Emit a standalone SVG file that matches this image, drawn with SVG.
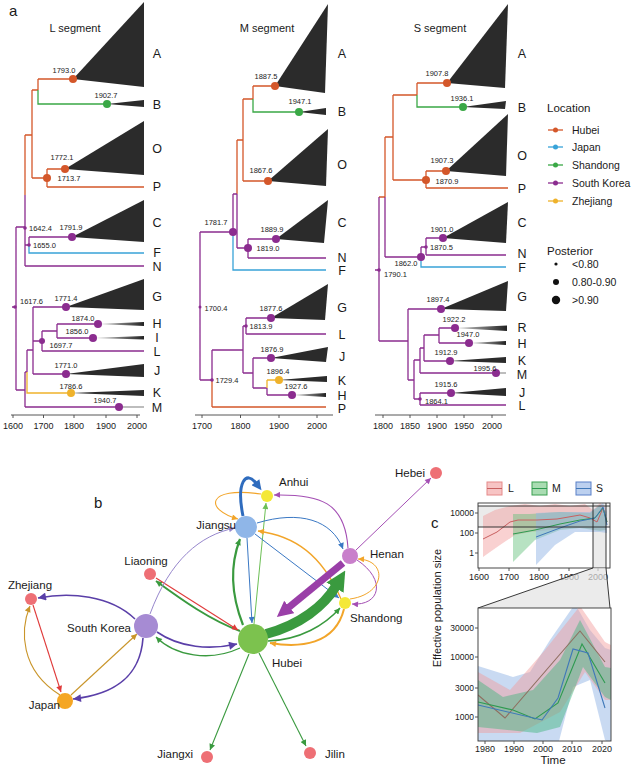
<svg xmlns="http://www.w3.org/2000/svg" width="633" height="768" viewBox="0 0 633 768">
<defs>
<style>
text{font-family:"Liberation Sans",Arial,sans-serif;fill:#1a1a1a}
.pl{font-size:15px}
.st{font-size:11px;text-anchor:middle}
.tl{font-size:12.5px;text-anchor:middle}
.nl{font-size:7.5px;text-anchor:middle;fill:#222}
.ns{font-size:7.5px;fill:#222}
.ax{font-size:9px;text-anchor:middle;fill:#444}
.axr{font-size:8.5px;text-anchor:end;fill:#444}
.lg{font-size:10.5px}
.lt{font-size:11.5px}
.br{fill:none;stroke-width:1.3}
.o{stroke:#d4572a}.p{stroke:#8b2c8f}.g{stroke:#3aa846}.c{stroke:#38a3d8}.y{stroke:#efb22b}.gr{stroke:#9a9a9a}
.tri{fill:#2b2b2b}
.tg{fill:url(#fade)}
.do{fill:#d4572a}.dp{fill:#8b2c8f}.dg{fill:#3aa846}.dy{fill:#efb22b}.dc{fill:#38a3d8}
.axl{stroke:#444;stroke-width:0.9;fill:none}
.bt{font-size:11.5px}
.e{fill:none}
</style>
<linearGradient id="fade" x1="0" x2="1" y1="0" y2="0"><stop offset="0" stop-color="#d0d0d0"/><stop offset="1" stop-color="#222"/></linearGradient>
<marker id="aG" viewBox="0 0 10 10" refX="10" refY="5" markerWidth="7" markerHeight="6" markerUnits="userSpaceOnUse" orient="auto"><path d="M0,0L10,5L0,10z" fill="#3a9a3f"/></marker>
<marker id="aLG" viewBox="0 0 10 10" refX="10" refY="5" markerWidth="7" markerHeight="6" markerUnits="userSpaceOnUse" orient="auto"><path d="M0,0L10,5L0,10z" fill="#6cbf55"/></marker>
<marker id="aP" viewBox="0 0 10 10" refX="10" refY="5" markerWidth="7" markerHeight="6" markerUnits="userSpaceOnUse" orient="auto"><path d="M0,0L10,5L0,10z" fill="#a44fb4"/></marker>
<marker id="aB" viewBox="0 0 10 10" refX="10" refY="5" markerWidth="7" markerHeight="6" markerUnits="userSpaceOnUse" orient="auto"><path d="M0,0L10,5L0,10z" fill="#3a78c4"/></marker>
<marker id="aO" viewBox="0 0 10 10" refX="10" refY="5" markerWidth="7" markerHeight="6" markerUnits="userSpaceOnUse" orient="auto"><path d="M0,0L10,5L0,10z" fill="#f2a52a"/></marker>
<marker id="aI" viewBox="0 0 10 10" refX="10" refY="5" markerWidth="9" markerHeight="8" markerUnits="userSpaceOnUse" orient="auto"><path d="M0,0L10,5L0,10z" fill="#5a3fa8"/></marker>
<marker id="aR" viewBox="0 0 10 10" refX="10" refY="5" markerWidth="7" markerHeight="6" markerUnits="userSpaceOnUse" orient="auto"><path d="M0,0L10,5L0,10z" fill="#e03a3a"/></marker>
<marker id="aN" viewBox="0 0 10 10" refX="10" refY="5" markerWidth="7" markerHeight="6" markerUnits="userSpaceOnUse" orient="auto"><path d="M0,0L10,5L0,10z" fill="#c9952a"/></marker>
<marker id="aLP" viewBox="0 0 10 10" refX="10" refY="5" markerWidth="7" markerHeight="6" markerUnits="userSpaceOnUse" orient="auto"><path d="M0,0L10,5L0,10z" fill="#9686cc"/></marker>
<marker id="aBT" viewBox="0 0 10 10" refX="1" refY="5" markerWidth="11" markerHeight="10" markerUnits="userSpaceOnUse" orient="auto"><path d="M0,0L10,5L0,10z" fill="#2f6cbe"/></marker>
<marker id="aPT" viewBox="0 0 10 10" refX="1" refY="5" markerWidth="16" markerHeight="16" markerUnits="userSpaceOnUse" orient="auto"><path d="M0,0L10,5L0,10z" fill="#9a3fa8"/></marker>
<marker id="aGT" viewBox="0 0 10 10" refX="1" refY="5" markerWidth="20" markerHeight="22" markerUnits="userSpaceOnUse" orient="auto"><path d="M0,0L10,5L0,10z" fill="#3a9a3f"/></marker>
<clipPath id="cb"><rect x="478" y="608" width="133" height="133"/></clipPath>
<clipPath id="ct"><rect x="478" y="503" width="132" height="65"/></clipPath>
</defs>
<rect width="633" height="768" fill="#fff"/>

<!-- panel a labels -->
<text class="pl" x="9" y="16">a</text>
<text class="st" x="75" y="32">L segment</text>
<text class="st" x="267" y="32">M segment</text>
<text class="st" x="440" y="32">S segment</text>

<!-- L tree -->
<g id="treeL">
<g id="treeL-connectors">
<path class="br o" d="M38,79H73M38,79V90M32,90H38M32,90V178M25,135H32M32,178H47M47,169V187M47,169H65M47,187H144M25,135V195"/>
<path class="br g" d="M38,90V104H107"/>
<path class="br p" d="M25,195V266M25,245H29M29,237V245M29,237H72M25,266H144M16,227H25M16,227V390M12,307H16M16,390H25M25,372V407M25,372H27M27,350V372M27,350H33M33,307V374M33,307H66M33,374H66M33,341H42M42,331V351M42,331H57M57,324V338M57,324H98M57,338H93M42,351H144M25,407H119"/>
<path class="br c" d="M29,245V253H144"/>
<path class="br y" d="M27,372V393H71"/>
<path class="br gr" d="M119,407H144"/>
</g>
<polygon class="tri" points="73,79 144,2 144,87"/>
<polygon class="tri" points="107,104 144,100 144,107"/>
<polygon class="tri" points="65,169 144,121 144,175"/>
<polygon class="tri" points="72,237 144,200 144,242"/>
<polygon class="tri" points="66,307 144,279 144,310"/>
<polygon class="tg" points="98,324 144,322 144,326"/>
<polygon class="tg" points="93,338 144,336 144,339.5"/>
<polygon class="tri" points="66,374 144,364 144,377"/>
<polygon class="tri" points="71,393 144,390 144,396"/>
<g class="do"><circle cx="73" cy="79" r="4"/><circle cx="65" cy="169" r="4"/><circle cx="47" cy="178" r="4"/></g>
<circle class="dg" cx="107" cy="104" r="4"/>
<g class="dp"><circle cx="25" cy="228" r="1.8"/><circle cx="29" cy="245" r="1.8"/><circle cx="15" cy="307" r="1.8"/><circle cx="72" cy="237" r="4"/><circle cx="66" cy="307" r="4"/><circle cx="98" cy="324" r="4"/><circle cx="93" cy="338" r="4"/><circle cx="66" cy="374" r="4"/><circle cx="119" cy="407" r="4"/><circle cx="42" cy="341" r="3"/></g>
<circle class="dy" cx="71" cy="393" r="4"/>
<text class="nl" x="64" y="73">1793.0</text>
<text class="nl" x="106" y="98">1902.7</text>
<text class="nl" x="62" y="160">1772.1</text>
<text class="nl" x="69" y="181">1713.7</text>
<text class="ns" x="29" y="231">1642.4</text>
<text class="nl" x="71" y="230">1791.9</text>
<text class="ns" x="33" y="248">1655.0</text>
<text class="ns" x="20" y="304">1617.6</text>
<text class="nl" x="66" y="301">1771.4</text>
<text class="nl" x="83" y="321">1874.0</text>
<text class="nl" x="77" y="334">1856.0</text>
<text class="nl" x="61" y="348">1697.7</text>
<text class="nl" x="66" y="368">1771.0</text>
<text class="nl" x="71" y="389">1786.6</text>
<text class="nl" x="105" y="403">1940.7</text>
<g class="tl">
<text x="157" y="58">A</text><text x="157" y="109">B</text><text x="157" y="153">O</text><text x="157" y="191">P</text>
<text x="157" y="227">C</text><text x="157" y="257">F</text><text x="157" y="271">N</text><text x="157" y="301">G</text>
<text x="157" y="328">H</text><text x="157" y="342">I</text><text x="157" y="356">L</text><text x="157" y="375">J</text>
<text x="157" y="397">K</text><text x="157" y="412">M</text>
</g>
<path class="axl" d="M11,415H140M13,415V418M43.5,415V418M74,415V418M106,415V418M137,415V418"/>
<g class="ax"><text x="13" y="429">1600</text><text x="43.5" y="429">1700</text><text x="74" y="429">1800</text><text x="106" y="429">1900</text><text x="137" y="429">2000</text></g>
</g>

<!-- M tree -->
<g id="treeM">
<g id="treeM-connectors">
<path class="br o" d="M253,86H275M253,86V99M243,99H253M243,99V181M243,181H268M237,140H243M237,140V194M212,380V407M212,407H326"/>
<path class="br g" d="M253,99V112H299"/>
<path class="br p" d="M233,194H237M237,194V248M237,248H248M248,239V258M248,239H276M248,258H326M233,194V232M200,232H233M200,232V380M200,380H212M212,350V380M212,350H243M243,326V373M243,326H246M246,318V334M246,318H271M246,334H326M243,373H253M253,358V388M253,358H271M253,388H267M267,388V395M267,395H292"/>
<path class="br c" d="M233,232V270H326"/>
<path class="br y" d="M267,380V388M267,380H279"/>
</g>
<polygon class="tri" points="275,86 328,4 325,93"/>
<polygon class="tri" points="299,112 326,108 326,115"/>
<polygon class="tri" points="268,181 328,129 326,186"/>
<polygon class="tri" points="276,239 328,200 324,243"/>
<polygon class="tri" points="271,318 328,284 325,320"/>
<polygon class="tri" points="271,358 328,347 326,362"/>
<polygon class="tri" points="279,380 327,376 327,382"/>
<polygon class="tg" points="292,395 326,393 326,397"/>
<g class="do"><circle cx="275" cy="86" r="4"/><circle cx="268" cy="181" r="4"/></g>
<circle class="dg" cx="299" cy="112" r="4"/>
<g class="dp"><circle cx="233" cy="232" r="4"/><circle cx="276" cy="239" r="4"/><circle cx="248" cy="248" r="4"/><circle cx="271" cy="318" r="4"/><circle cx="271" cy="358" r="4"/><circle cx="292" cy="395" r="4"/><circle cx="246" cy="326" r="1.8"/><circle cx="212" cy="380" r="1.8"/><circle cx="200" cy="307" r="1.5"/></g>
<circle class="dy" cx="279" cy="380" r="4"/>
<text class="nl" x="266" y="79">1887.5</text>
<text class="nl" x="300" y="104">1947.1</text>
<text class="nl" x="261" y="173">1867.6</text>
<text class="nl" x="216" y="225">1781.7</text>
<text class="nl" x="272" y="232">1889.9</text>
<text class="nl" x="268" y="251">1819.0</text>
<text class="nl" x="216" y="311">1700.4</text>
<text class="nl" x="271" y="311">1877.6</text>
<text class="nl" x="261" y="329">1813.9</text>
<text class="nl" x="272" y="352">1876.9</text>
<text class="nl" x="278" y="374">1896.4</text>
<text class="nl" x="296" y="389">1927.6</text>
<text class="nl" x="227" y="383">1729.4</text>
<g class="tl">
<text x="342" y="58">A</text><text x="342" y="116">B</text><text x="342" y="169">O</text><text x="342" y="227">C</text>
<text x="342" y="262">N</text><text x="342" y="275">F</text><text x="342" y="312">G</text><text x="342" y="339">L</text>
<text x="342" y="361">J</text><text x="342" y="385">K</text><text x="342" y="400">H</text><text x="342" y="413">P</text>
</g>
<path class="axl" d="M195,415H333M202,415V418M240.5,415V418M279,415V418M317,415V418"/>
<g class="ax"><text x="202" y="429">1700</text><text x="240.5" y="429">1800</text><text x="279" y="429">1900</text><text x="317" y="429">2000</text></g>
</g>

<!-- S tree -->
<g id="treeS">
<g id="treeS-connectors">
<path class="br o" d="M417,83H447M417,83V95M393,95H417M393,95V180M393,180H426M426,171V188M426,171H446M426,188H508M385,137H393M385,137V197M379,197H385"/>
<path class="br g" d="M417,95V107H463"/>
<path class="br p" d="M385,197V257M385,257H421M421,247V257M421,247H426M426,238V255M426,238H443M426,255H506M379,197V341M375,270H379M379,341H408M408,309V380M408,309H441M408,380H414M414,360V399M414,360H420M420,348V373M420,348H424M424,335V361M424,335H439M439,328V343M439,328H455M439,343H469M424,361H450M420,373H496M414,399H420M420,393V405M420,393H451M420,405H506"/>
<path class="br c" d="M421,257V267H506"/>
<path class="br gr" d="M496,373H506"/>
</g>
<polygon class="tri" points="447,83 508,4 505,88"/>
<polygon class="tri" points="463,107 506,101 505,109"/>
<polygon class="tri" points="446,171 508,114 506,176"/>
<polygon class="tri" points="443,238 508,202 506,243"/>
<polygon class="tri" points="441,309 508,281 506,311"/>
<polygon class="tg" points="455,328 507,325.5 507,331"/>
<polygon class="tg" points="469,343 506,341 506,345"/>
<polygon class="tri" points="450,361 506,357 506,363"/>
<polygon class="tri" points="451,393 506,388 506,396"/>
<g class="do"><circle cx="447" cy="83" r="4"/><circle cx="446" cy="171" r="4"/><circle cx="426" cy="180" r="4"/></g>
<circle class="dg" cx="463" cy="107" r="4"/>
<g class="dp"><circle cx="421" cy="257" r="4"/><circle cx="443" cy="238" r="4"/><circle cx="441" cy="309" r="4"/><circle cx="455" cy="328" r="4"/><circle cx="469" cy="343" r="4"/><circle cx="450" cy="361" r="4"/><circle cx="496" cy="373" r="4"/><circle cx="451" cy="393" r="4"/><circle cx="426" cy="247" r="1.8"/><circle cx="379" cy="270" r="1.8"/><circle cx="420" cy="399" r="1.8"/></g>
<text class="nl" x="437" y="76">1907.8</text>
<text class="nl" x="462" y="101">1936.1</text>
<text class="nl" x="442" y="163">1907.3</text>
<text class="nl" x="447" y="184">1870.9</text>
<text class="nl" x="442" y="232">1901.0</text>
<text class="ns" x="430" y="250">1870.5</text>
<text class="nl" x="406" y="266">1862.0</text>
<text class="ns" x="384" y="277">1790.1</text>
<text class="nl" x="438" y="302">1897.4</text>
<text class="nl" x="454" y="322">1922.2</text>
<text class="nl" x="468" y="337">1947.0</text>
<text class="nl" x="446" y="355">1912.9</text>
<text class="nl" x="485" y="371">1995.6</text>
<text class="nl" x="446" y="387">1915.6</text>
<text class="ns" x="425" y="404">1864.1</text>
<g class="tl">
<text x="522" y="58">A</text><text x="522" y="112">B</text><text x="522" y="160">O</text><text x="522" y="193">P</text>
<text x="522" y="227">C</text><text x="522" y="258">N</text><text x="522" y="272">F</text><text x="522" y="301">G</text>
<text x="522" y="332">R</text><text x="522" y="348">H</text><text x="522" y="365">K</text><text x="522" y="379">M</text>
<text x="522" y="397">J</text><text x="522" y="410">L</text>
</g>
<path class="axl" d="M375,415H506M383,415V418M410,415V418M437,415V418M464,415V418M492,415V418"/>
<g class="ax"><text x="383" y="429">1800</text><text x="410" y="429">1850</text><text x="437" y="429">1900</text><text x="464" y="429">1950</text><text x="492" y="429">2000</text></g>
</g>

<!-- legend a -->
<g id="legend-location">
<text class="lt" x="547" y="112">Location</text>
<g stroke-width="1.3"><path d="M548,130H563" stroke="#d4572a"/><path d="M548,147H563" stroke="#38a3d8"/><path d="M548,165H563" stroke="#3aa846"/><path d="M548,183H563" stroke="#8b2c8f"/><path d="M548,201H563" stroke="#efb22b"/></g>
<circle class="do" cx="555.5" cy="130" r="2.5"/><circle class="dc" cx="555.5" cy="147" r="2.5"/><circle class="dg" cx="555.5" cy="165" r="2.5"/><circle class="dp" cx="555.5" cy="183" r="2.5"/><circle class="dy" cx="555.5" cy="201" r="2.5"/>
<g class="lg"><text x="572" y="134">Hubei</text><text x="572" y="151">Japan</text><text x="572" y="169">Shandong</text><text x="572" y="187">South Korea</text><text x="572" y="205">Zhejiang</text></g>
</g>
<g id="legend-posterior">
<text class="lt" x="547" y="255">Posterior</text>
<circle cx="556" cy="264" r="1.6" fill="#111"/><circle cx="556" cy="282" r="3" fill="#111"/><circle cx="556" cy="300" r="4.2" fill="#111"/>
<g class="lg"><text x="572" y="268">&lt;0.80</text><text x="572" y="286">0.80-0.90</text><text x="572" y="304">&gt;0.90</text></g>
</g>

<!-- panel b -->
<text class="pl" x="94" y="508">b</text>
<g id="edges">
<path class="e" stroke="#3a9a3f" stroke-width="1.1" d="M249,654L210,750" marker-end="url(#aG)"/>
<path class="e" stroke="#3a9a3f" stroke-width="1.1" d="M259,653L306,746" marker-end="url(#aG)"/>
<path class="e" stroke="#a44fb4" stroke-width="1" d="M356,550L431,478" marker-end="url(#aP)"/>
<path class="e" stroke="#a44fb4" stroke-width="1.1" d="M348,548C345,502 320,494 274,495" marker-end="url(#aP)"/>
<path class="e" stroke="#6cbf55" stroke-width="1" d="M254,624L266,503" marker-end="url(#aLG)"/>
<path class="e" stroke="#3a78c4" stroke-width="1" d="M247,538L252,623" marker-end="url(#aB)"/>
<path class="e" stroke="#f2a52a" stroke-width="1.1" d="M261,494C205,486 205,510 238,519" marker-end="url(#aO)"/>
<path class="e" stroke="#2f6cbe" stroke-width="3" d="M243,516C236,482 246,470 256,483" marker-end="url(#aBT)"/>
<path class="e" stroke="#3a78c4" stroke-width="1" d="M257,523C300,510 332,520 343,549" marker-end="url(#aB)"/>
<path class="e" stroke="#3a78c4" stroke-width="1" d="M255,534L339,598" marker-end="url(#aB)"/>
<path class="e" stroke="#f2a52a" stroke-width="1.3" d="M341,599C322,555 295,536 258,531" marker-end="url(#aO)"/>
<path class="e" stroke="#3a9a3f" stroke-width="2.2" d="M243,625C230,592 230,565 240,539" marker-end="url(#aG)"/>
<path class="e" stroke="#3a9a3f" stroke-width="2" d="M240,631C210,620 182,600 156,581" marker-end="url(#aG)"/>
<path class="e" stroke="#e03a3a" stroke-width="1.1" d="M156,578L238,630" marker-end="url(#aR)"/>
<path class="e" stroke="#5a3fa8" stroke-width="1.6" d="M157,632C180,648 210,650 237,644" marker-end="url(#aI)"/>
<path class="e" stroke="#3a9a3f" stroke-width="1.3" d="M240,648C210,662 175,656 156,637" marker-end="url(#aG)"/>
<path class="e" stroke="#9686cc" stroke-width="1" d="M150,614C170,560 200,535 235,528" marker-end="url(#aLP)"/>
<path class="e" stroke="#5a3fa8" stroke-width="1.6" d="M135,619C110,595 70,592 38,598" marker-end="url(#aI)"/>
<path class="e" stroke="#5a3fa8" stroke-width="1.6" d="M143,638C140,680 110,695 73,699" marker-end="url(#aI)"/>
<path class="e" stroke="#c9952a" stroke-width="1.1" d="M71,695L137,634" marker-end="url(#aN)"/>
<path class="e" stroke="#c9952a" stroke-width="1.1" d="M60,695C20,670 20,630 30,606" marker-end="url(#aN)"/>
<path class="e" stroke="#e03a3a" stroke-width="1.1" d="M33,605L61,692" marker-end="url(#aR)"/>
<path class="e" stroke="#3a9a3f" stroke-width="1.5" d="M268,641C300,640 325,625 340,608" marker-end="url(#aG)"/>
<path class="e" stroke="#f2a52a" stroke-width="2" d="M344,609C335,645 300,648 270,643" marker-end="url(#aO)"/>
<path class="e" stroke="#a44fb4" stroke-width="1" d="M357,560C387,580 380,606 352,604" marker-end="url(#aP)"/>
<path class="e" stroke="#f2a52a" stroke-width="1" d="M350,599C386,594 388,560 358,559" marker-end="url(#aO)"/>
<path class="e" stroke="#9a3fa8" stroke-width="7" d="M343,563L288,608" marker-end="url(#aPT)"/>
<path class="e" stroke="#3a9a3f" stroke-width="10" d="M266,634C300,625 324,606 336,586" marker-end="url(#aGT)"/>
</g>
<g id="node-anhui"><circle cx="267" cy="496" r="6" fill="#f4e838"/><text class="bt" x="279" y="486">Anhui</text></g>
<g id="node-jiangsu"><circle cx="246" cy="527" r="11" fill="#8fb6e8"/><text class="bt" x="236" y="529" text-anchor="end">Jiangsu</text></g>
<g id="node-liaoning"><circle cx="150" cy="574" r="6" fill="#ee6f75"/><text class="bt" x="146" y="565" text-anchor="middle">Liaoning</text></g>
<g id="node-zhejiang"><circle cx="31" cy="599" r="6" fill="#ee6f75"/><text class="bt" x="30" y="589" text-anchor="middle">Zhejiang</text></g>
<g id="node-southkorea"><circle cx="146" cy="626" r="12" fill="#a68bd3"/><text class="bt" x="131" y="632" text-anchor="end">South Korea</text></g>
<g id="node-hubei"><circle cx="253" cy="639" r="15" fill="#7cc24e"/><text class="bt" x="272" y="667">Hubei</text></g>
<g id="node-japan"><circle cx="65" cy="701" r="8" fill="#f5a623"/><text class="bt" x="60" y="709" text-anchor="end">Japan</text></g>
<g id="node-jiangxi"><circle cx="207" cy="757" r="6" fill="#ee6f75"/><text class="bt" x="193" y="758" text-anchor="end">Jiangxi</text></g>
<g id="node-jilin"><circle cx="310" cy="753" r="6" fill="#ee6f75"/><text class="bt" x="325" y="758">Jilin</text></g>
<g id="node-shandong"><circle cx="345" cy="603" r="6" fill="#f4e838"/><text class="bt" x="350" y="622">Shandong</text></g>
<g id="node-henan"><circle cx="350" cy="556" r="8" fill="#c97fcb"/><text class="bt" x="370" y="558">Henan</text></g>
<g id="node-hebei"><circle cx="436" cy="473" r="6" fill="#ee6f75"/><text class="bt" x="425" y="477" text-anchor="end">Hebei</text></g>

<!-- panel c -->
<g id="panel-c">
<text class="pl" x="431" y="528">c</text>
<g id="legend-c">
<rect x="487" y="482" width="15" height="13" fill="#f7c4c4" stroke="#e58a8a"/><path d="M487,488.5H502" stroke="#c86060"/>
<rect x="532" y="482" width="15" height="13" fill="#a9dcb2" stroke="#3aa050"/><path d="M532,488.5H547" stroke="#2e9a50"/>
<rect x="576" y="482" width="15" height="13" fill="#bcd0ef" stroke="#5a80c8"/><path d="M576,488.5H591" stroke="#3f78b8"/>
<g class="lg"><text x="508" y="492">L</text><text x="552" y="492">M</text><text x="596" y="492">S</text></g>
</g>
<rect x="478" y="503" width="132" height="65" fill="#fff"/>
<rect x="478" y="506" width="132" height="21" fill="#ebebeb"/>
<rect x="593" y="503" width="13" height="65" fill="#ebebeb"/>
<g clip-path="url(#ct)">
<polygon fill="#f29a9a" fill-opacity="0.45" points="483,516 495,510 510,506 525,504 540,506 555,504 570,506 585,504 593,510 600,503 606,508 606,530 595,530 585,528 570,528 550,530 530,532 515,535 500,545 490,552 483,557"/>
<polygon fill="#5fbf77" fill-opacity="0.45" points="513,514 530,514 560,512 590,513 600,505 606,512 606,530 600,531 580,528 560,530 535,540 513,562"/>
<polygon fill="#94b6e6" fill-opacity="0.5" points="536,513 560,512 590,512 603,503 607,512 607,533 600,532 575,532 555,545 536,565"/>
<polyline fill="none" stroke="#c86060" stroke-width="1" points="483,539 497,532 510,522 518,520 537,520 557,519 580,515 590,518 597,522 603,508 607,522"/>
<polyline fill="none" stroke="#2e9a50" stroke-width="1" points="513,534 535,530 560,524 580,520 595,518 603,508 607,522"/>
<polyline fill="none" stroke="#3f78b8" stroke-width="1" points="536,537 560,528 580,521 595,518 603,507 607,525"/>
</g>
<path d="M478,506H610M478,527H610M593,503V568M606,503V568" stroke="#222" stroke-width="0.9" fill="none"/>
<rect x="478" y="503" width="132" height="65" fill="none" stroke="#333" stroke-width="0.9"/>
<path class="axl" d="M475,513H478M475,533H478M475,553H478M479,568V571M509,568V571M539,568V571M569,568V571M598,568V571"/>
<g class="axr"><text x="474" y="516">10000</text><text x="474" y="536">100</text><text x="474" y="556">1</text></g>
<g class="ax" font-size="8.5"><text x="479" y="580">1600</text><text x="509" y="580">1700</text><text x="539" y="580">1800</text><text x="569" y="580">1900</text><text x="598" y="580">2000</text></g>
<polygon points="593,568 606,568 610,608 478,608" fill="#e3e3e3" fill-opacity="0.7"/>
<path d="M593,568L478,608M606,568L610,608" stroke="#222" stroke-width="0.9" fill="none"/>
<rect x="478" y="608" width="133" height="133" fill="#fff"/>
<g clip-path="url(#cb)">
<polygon fill="#94b6e6" fill-opacity="0.5" points="478,666 513,677 530,672 550,640 575,604 590,630 605,648 611,650 611,745 605,740 590,680 573,687 558,745 478,745"/>
<polygon fill="#f29a9a" fill-opacity="0.45" points="478,672 510,690 525,673 545,650 580,606 605,642 611,645 611,700 605,700 585,672 560,712 520,733 478,733"/>
<polygon fill="#3fb37a" fill-opacity="0.45" points="478,680 503,697 533,690 560,660 580,620 605,667 611,668 611,700 605,697 583,667 560,727 537,733 478,727"/>
<polyline fill="none" stroke="#8f6e60" stroke-width="1.1" points="478,695 505,718 580,631 605,662"/>
<polyline fill="none" stroke="#2e9a50" stroke-width="1.1" points="478,702 513,710 535,719 558,703 582,644 605,683"/>
<polyline fill="none" stroke="#3f78b8" stroke-width="1.1" points="478,705 542,720 558,698 573,649 588,653 605,708"/>
</g>
<rect x="478" y="608" width="133" height="133" fill="none" stroke="#333" stroke-width="0.9"/>
<path class="axl" d="M475,628H478M475,657H478M475,688H478M475,717H478M485,741V744M514,741V744M543,741V744M572,741V744M602,741V744"/>
<g class="axr"><text x="474" y="631">30000</text><text x="474" y="660">10000</text><text x="474" y="691">3000</text><text x="474" y="720">1000</text></g>
<g class="ax" font-size="8.5"><text x="485" y="752">1980</text><text x="514" y="752">1990</text><text x="543" y="752">2000</text><text x="572" y="752">2010</text><text x="602" y="752">2020</text></g>
<text x="553" y="764" font-size="11.5" text-anchor="middle">Time</text>
<text transform="translate(441,608) rotate(-90)" font-size="11" text-anchor="middle">Effective population size</text>
</g>
</svg>
